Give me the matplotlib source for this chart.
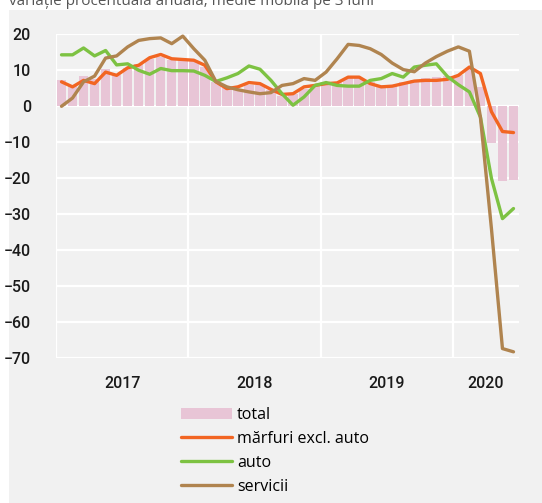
import matplotlib
matplotlib.use('Agg')
import matplotlib.pyplot as plt
from matplotlib.patches import Rectangle, Patch
from matplotlib.lines import Line2D
import numpy as np

# Data: Jan 2017 - Jun 2020, variatie anuala (%), medie mobila 3 luni
years = ['2017', '2018', '2019', '2020']
months_per_year = [12, 12, 12, 6]

total = [7.2, 5.8, 8.3, 7.5, 10.5, 8.7, 10.7, 11.7, 13.2, 13.7, 13.0, 12.8,
         12.5, 10.9, 6.8, 5.0, 4.9, 6.0, 5.8, 4.4, 3.0, 3.5, 4.9, 5.6,
         6.6, 6.8, 8.0, 8.0, 6.8, 6.0, 6.0, 6.8, 7.4, 7.9, 8.1, 8.4,
         8.8, 10.5, 5.4, -10.2, -20.7, -20.6]

marfuri = [6.8, 5.4, 7.2, 6.3, 9.5, 8.6, 10.7, 11.4, 13.5, 14.4, 13.2, 13.0,
           12.8, 11.4, 6.8, 4.9, 5.4, 6.6, 6.3, 4.7, 3.3, 3.5, 5.4, 5.8,
           6.3, 6.5, 8.1, 8.1, 6.3, 5.4, 5.6, 6.3, 7.0, 7.2, 7.2, 7.5,
           8.6, 10.9, 9.1, -1.5, -7.0, -7.3]

auto = [14.3, 14.3, 16.2, 14.0, 15.5, 11.5, 11.8, 10.0, 8.9, 10.5, 9.9, 9.9,
        9.8, 8.6, 6.9, 7.9, 9.1, 11.2, 10.3, 7.2, 3.5, 0.3, 2.6, 5.8,
        6.6, 5.8, 5.6, 5.6, 7.2, 7.7, 9.1, 8.1, 10.9, 11.4, 11.8, 8.3,
        6.0, 4.0, -3.0, -20.0, -31.2, -28.4]

servicii = [0.0, 2.3, 6.8, 8.4, 13.4, 14.0, 16.5, 18.3, 18.8, 19.0, 17.4, 19.5,
            16.0, 12.8, 6.9, 5.4, 4.6, 4.0, 3.5, 3.8, 5.8, 6.3, 7.7, 7.2,
            9.5, 13.2, 17.2, 16.9, 16.0, 14.4, 12.0, 10.2, 9.6, 12.0, 13.8, 15.3,
            16.5, 15.3, -3.0, -34.0, -67.3, -68.2]

labels = ['total', 'mărfuri excl. auto', 'auto', 'servicii']
colors = ['#e8c5d6', '#f26522', '#7dc242', '#b0844f']

W, H = 542, 503
fig = plt.figure(figsize=(W / 100, H / 100), dpi=100)
fig.patch.set_facecolor('white')
bg = '#f1f1f1'
fig.patches.append(Rectangle((9 / W, 0), 1, 1 - 10 / H, transform=fig.transFigure,
                             facecolor=bg, edgecolor='none', zorder=-5))

fig.text(9 / W, 1 - 5 / H, 'variație procentuală anuală, medie mobilă pe 3 luni',
         fontsize=11, color='#555555', family=['Open Sans', 'DejaVu Sans'],
         va='baseline', ha='left')

ax = fig.add_axes([56 / W, 1 - 358.3 / H, (519 - 56) / W, (358.3 - 34.3) / H])
ax.set_facecolor(bg)
x = np.arange(len(total))

ax.bar(x, total, width=0.86, color=colors[0], zorder=2)
ax.plot(x, marfuri, color=colors[1], lw=2.4, zorder=3, solid_capstyle='round', solid_joinstyle='round')
ax.plot(x, auto, color=colors[2], lw=2.4, zorder=4, solid_capstyle='round', solid_joinstyle='round')
ax.plot(x, servicii, color=colors[3], lw=2.4, zorder=5, solid_capstyle='round', solid_joinstyle='round')

ax.set_xlim(-0.5, len(total) - 0.5)
ax.set_ylim(-70, 20)
ax.set_yticks(np.arange(-70, 21, 10))

bounds = np.cumsum([0] + months_per_year) - 0.5
centers = [(bounds[i] + bounds[i + 1]) / 2 for i in range(len(years))]
ax.set_xticks(centers)
ax.set_xticklabels(years)
ax.set_xticks(bounds[:-1], minor=True)
ax.grid(True, which='minor', axis='x', color='white', lw=1.6, zorder=1)
ax.grid(True, which='major', axis='y', color='white', lw=1.6, zorder=1)
ax.set_axisbelow(True)
for s in ax.spines.values():
    s.set_visible(False)

ax.tick_params(axis='both', which='both', length=0)
ax.tick_params(axis='y', pad=18)
ax.tick_params(axis='x', pad=13)
for lab in ax.get_xticklabels() + ax.get_yticklabels():
    lab.set_family(['Roboto', 'DejaVu Sans'])
    lab.set_fontsize(11.5)
    lab.set_fontweight('medium')
    lab.set_color('#1a1a1a')

handles = [Patch(facecolor=colors[0], edgecolor='none'),
           Line2D([], [], color=colors[1], lw=2.4, solid_capstyle='round'),
           Line2D([], [], color=colors[2], lw=2.4, solid_capstyle='round'),
           Line2D([], [], color=colors[3], lw=2.4, solid_capstyle='round')]
fig.legend(handles, labels, loc='upper left', bbox_to_anchor=(181 / W, 1 - 407 / H),
           frameon=False, borderpad=0, borderaxespad=0, handlelength=3.2,
           handletextpad=0.3, labelspacing=0.5,
           prop={'family': ['Open Sans', 'DejaVu Sans'], 'size': 11.5})

fig.savefig('out.png', dpi=100)
